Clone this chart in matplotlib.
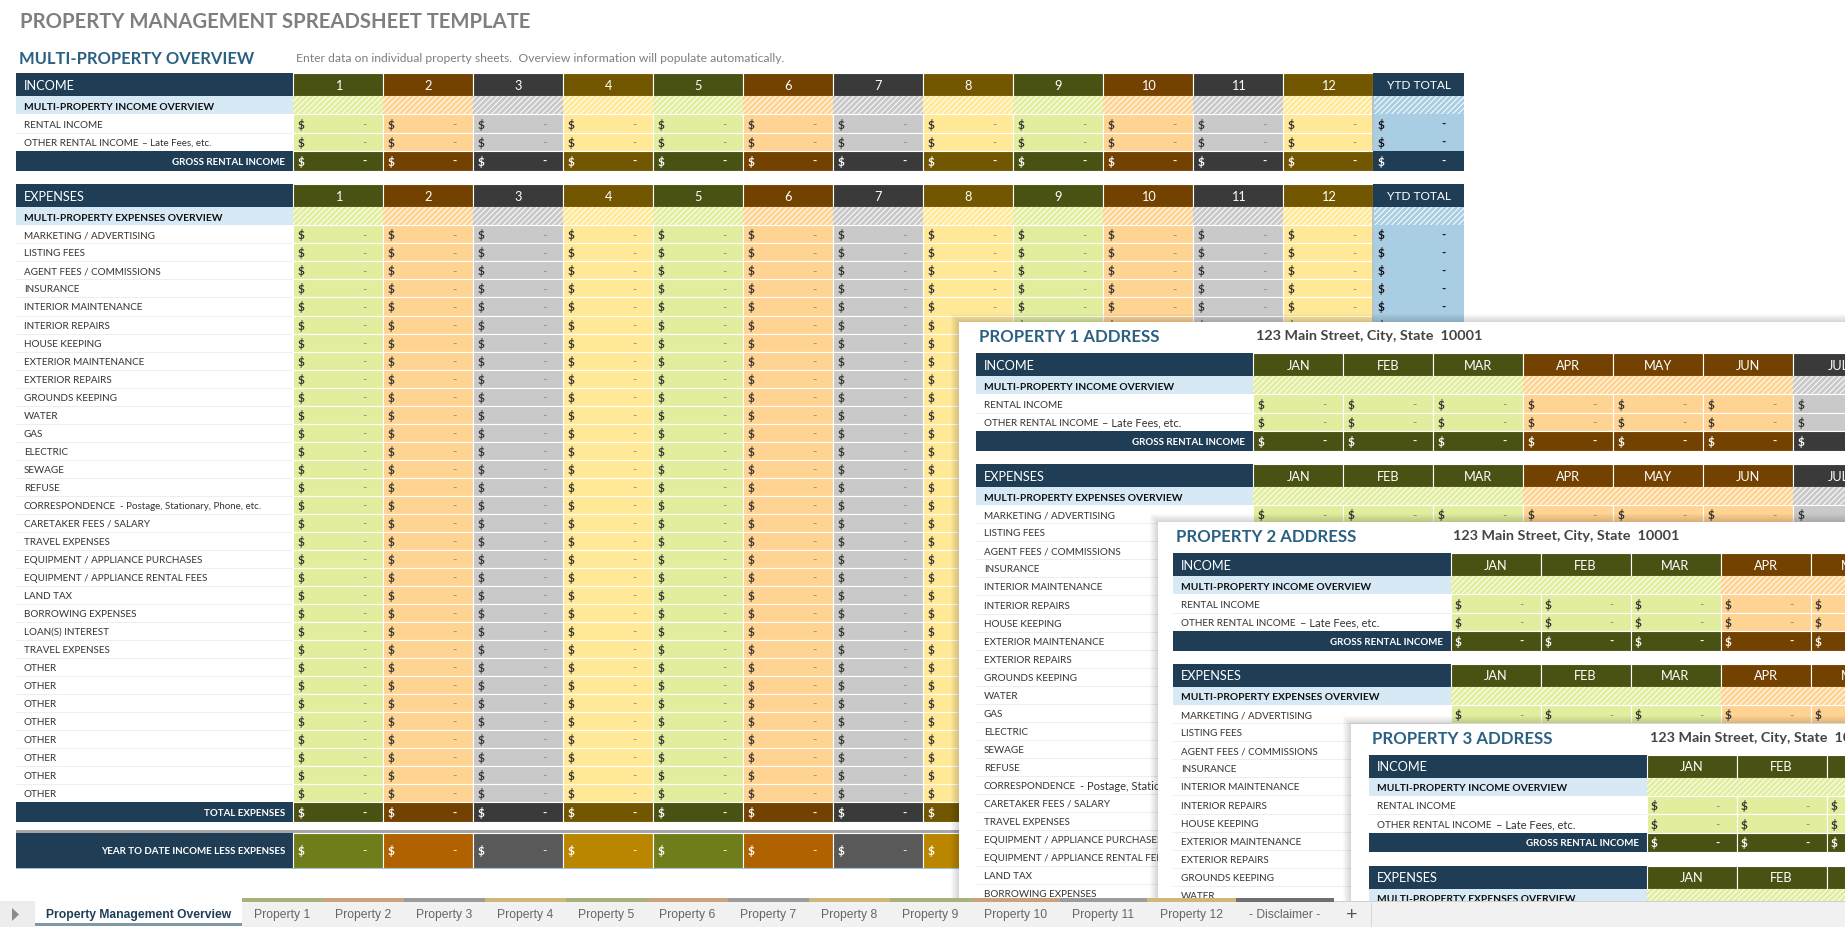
import matplotlib
matplotlib.use("Agg")
import matplotlib.pyplot as plt
from matplotlib.patches import Rectangle, Polygon

plt.rcParams['font.family'] = ['Lato', 'DejaVu Sans']
plt.rcParams['hatch.linewidth'] = 0.7

TITLE = "PROPERTY MANAGEMENT SPREADSHEET TEMPLATE"
SUBTITLE = "MULTI-PROPERTY OVERVIEW"
NOTE = "Enter data on individual property sheets.  Overview information will populate automatically."
ADDRESS = "123 Main Street, City, State  10001"
MAIN_COLUMNS = [str(i) for i in range(1, 13)]
MONTHS = ["JAN", "FEB", "MAR", "APR", "MAY", "JUN", "JUL", "AUG", "SEP", "OCT", "NOV", "DEC"]
MAIN_GROUPS = [0, 1, 2, 3, 0, 1, 2, 3, 0, 1, 2, 3]
MONTH_GROUPS = [0, 0, 0, 1, 1, 1, 2, 2, 2, 3, 3, 3]
INCOME_ROWS = [("RENTAL INCOME", ""), ("OTHER RENTAL INCOME", "– Late Fees, etc.")]
EXPENSE_ROWS = [("MARKETING / ADVERTISING", ""), ("LISTING FEES", ""), ("AGENT FEES / COMMISSIONS", ""),
                ("INSURANCE", ""), ("INTERIOR MAINTENANCE", ""), ("INTERIOR REPAIRS", ""), ("HOUSE KEEPING", ""),
                ("EXTERIOR MAINTENANCE", ""), ("EXTERIOR REPAIRS", ""), ("GROUNDS KEEPING", ""), ("WATER", ""),
                ("GAS", ""), ("ELECTRIC", ""), ("SEWAGE", ""), ("REFUSE", ""),
                ("CORRESPONDENCE", "- Postage, Stationary, Phone, etc."), ("CARETAKER FEES / SALARY", ""),
                ("TRAVEL EXPENSES", ""), ("EQUIPMENT / APPLIANCE PURCHASES", ""),
                ("EQUIPMENT / APPLIANCE RENTAL FEES", ""), ("LAND TAX", ""), ("BORROWING EXPENSES", ""),
                ("LOAN(S) INTEREST", ""), ("TRAVEL EXPENSES", "")] + [("OTHER", "")] * 8
EMPTY_VALUE = "-"
SHEET_NAMES = ["PROPERTY 1 ADDRESS", "PROPERTY 2 ADDRESS", "PROPERTY 3 ADDRESS"]
TABS = ["Property Management Overview"] + [f"Property {i}" for i in range(1, 13)] + ["- Disclaimer -"]
TAB_WIDTHS = [207] + [81] * 9 + [89, 87, 89, 98]

NAVY = "#1F3E56"
DARK = ["#4A5213", "#744200", "#3A3A3A", "#735600"]
LIGHT = ["#E2EE9E", "#FFD391", "#C9C9C9", "#FFE896"]
MID = ["#6F7E1A", "#B06100", "#595959", "#BA8600"]
BLUE = "#A9CDE3"
PALE = "#D7E9F5"
TAB_TOP = ["#A8B07B", "#C9A37A", "#9C9C9C", "#CFB67A"]

LABEL_W, COL_W = 277.5, 90.0
YTD_W = 90.5

fig = plt.figure(figsize=(18.45, 9.27), dpi=100, facecolor="white")
ax = fig.add_axes([0, 0, 1, 1])
ax.set_xlim(0, 1845)
ax.set_ylim(927, 0)
ax.axis("off")


def box(x, y, w, h, color, z, edge=None, lw=0.0, **kw):
    ax.add_patch(Rectangle((x, y), w, h, facecolor=color, edgecolor=edge if edge else color,
                           linewidth=lw, zorder=z, **kw))


def txt(x, y, s, z, size=8, color="#222222", weight="normal", ha="left", family=None):
    kw = {"family": family} if family else {}
    return ax.text(x, y, s, fontsize=size, color=color, fontweight=weight, ha=ha, va="center_baseline",
                   zorder=z, **kw)


def value_cell(x, y, h, color, z, fg, dash_fg=None, size=8.5, bold=False):
    box(x, y, COL_W, h, color, z, edge="white", lw=0.8)
    w = "bold" if bold else "normal"
    txt(x + 8, y + h / 2, "$", z + 1, size=size, color=fg, weight="bold", ha="center")
    txt(x + 71, y + h / 2, EMPTY_VALUE, z + 1, size=size, color=dash_fg or fg, weight=w, ha="center")


def ytd_cell(x, y, h, color, z, fg):
    box(x, y, YTD_W, h, color, z)
    txt(x + 8, y + h / 2, "$", z + 1, size=8.5, color=fg, weight="bold", ha="center")
    txt(x + 70, y + h / 2, EMPTY_VALUE, z + 1, size=8.5, color=fg, weight="bold", ha="center")


def block(ox, y, z, heading, over, rows, col_labels, groups, total, sub_small, row_h, total_h):
    xs = [ox + LABEL_W + i * COL_W for i in range(len(col_labels))]
    ytd_x = xs[-1] + COL_W
    # header row
    box(ox, y, LABEL_W, 23, NAVY, z)
    txt(ox + 8, y + 11.5, heading, z + 1, size=9.2, color="white")
    for x, lab, g in zip(xs, col_labels, groups):
        box(x, y, COL_W, 23, DARK[g], z, edge="white", lw=0.8)
        txt(x + COL_W / 2, y + 11.5, lab, z + 1, size=9.2, color="white", ha="center")
    box(ytd_x, y, YTD_W, 23, NAVY, z)
    txt(ytd_x + YTD_W / 2, y + 11.5, "YTD TOTAL", z + 1, size=8.6, color="white", ha="center")
    y += 23
    # overview row
    box(ox, y, LABEL_W, 18.4, PALE, z)
    txt(ox + 8, y + 10, over, z + 1, size=7.4, color="#111111", weight="bold")
    for x, g in zip(xs, groups):
        box(x, y, COL_W, 18.4, LIGHT[g], z, edge="white", lw=0, hatch="//////")
    box(ytd_x, y, YTD_W, 18.4, BLUE, z, edge="white", lw=0, hatch="//////")
    y += 18.4
    # data rows
    for main, extra in rows:
        h = row_h
        ax.plot([ox, ox + LABEL_W], [y + h, y + h], color="#EEEEEE", lw=0.7, zorder=z)
        t = txt(ox + 8, y + h / 2 + 0.5, main, z + 1, size=7.1, color="#333333")
        if extra:
            fig.canvas.draw_idle()
            bb = t.get_window_extent(fig.canvas.get_renderer())
            txt(bb.x1 + 4, y + h / 2 + 0.5, extra, z + 1, size=sub_small, color="#333333")
        for x, g in zip(xs, groups):
            value_cell(x, y, h, LIGHT[g], z, "#333333", dash_fg="#888888")
        ytd_cell(ytd_x, y, h, BLUE, z, "#111111")
        y += h
    # total row
    box(ox, y, LABEL_W, total_h, NAVY, z)
    txt(ox + LABEL_W - 8, y + total_h / 2 + 0.5, total, z + 1, size=7.0, color="white", weight="bold", ha="right")
    for x, g in zip(xs, groups):
        value_cell(x, y, total_h, DARK[g], z, "white", bold=True)
    ytd_cell(ytd_x, y, total_h, NAVY, z, "white")
    y += total_h
    return y, ytd_x


def table(ox, oy, z, col_labels, groups, sub_small):
    y, ytd_x = block(ox, oy, z, "INCOME", "MULTI-PROPERTY INCOME OVERVIEW", INCOME_ROWS, col_labels, groups,
                     "GROSS RENTAL INCOME", sub_small, 18.3, 19.6)
    box(ytd_x - 1, oy + 23, 2, y - oy - 43, "#B8C4CC", z + 2)
    top2 = y + 13.4
    y, ytd_x = block(ox, top2, z, "EXPENSES", "MULTI-PROPERTY EXPENSES OVERVIEW", EXPENSE_ROWS, col_labels, groups,
                     "TOTAL EXPENSES", sub_small, 18.02, 20)
    box(ytd_x - 1, top2 + 23, 2, y - top2 - 43, "#B8C4CC", z + 2)
    y += 8
    xs = [ox + LABEL_W + i * COL_W for i in range(len(col_labels))]
    box(ox, y, ytd_x + YTD_W - ox, 2.5, "#A6A6A6", z)
    y += 2.5
    box(ox, y, LABEL_W, 35, NAVY, z)
    txt(ox + LABEL_W - 8, y + 17.5, "YEAR TO DATE INCOME LESS EXPENSES", z + 1, size=7.0, color="white",
        weight="bold", ha="right")
    for x, g in zip(xs, groups):
        value_cell(x, y, 35, MID[g], z, "white", dash_fg="white")
    ytd_cell(ytd_x, y, 35, NAVY, z, "white")
    box(ox, y + 35, ytd_x + YTD_W - ox, 1, "#9DBFD3", z)


# main sheet
txt(20, 20, TITLE, 5, size=14.6, color="#7F7F7F", weight="bold")
txt(19, 57, SUBTITLE, 5, size=11.9, color="#2A6082", weight="bold")
txt(296, 57, NOTE, 5, size=8.7, color="#7F7F7F")
table(15.8, 73, 6, MAIN_COLUMNS, MAIN_GROUPS, 7)

# overlapping property sheets
sheet_pos = [(959, 321.7, 975.8, 353, 978.7, 1256), (1158, 521.7, 1173, 553, 1176, 1453),
             (1351, 724, 1369, 754.7, 1372, 1650)]
for i, (sx, sy, tx, ty, name_x, addr_x) in enumerate(sheet_pos):
    z = 100 * (i + 1)
    for k in range(8, 0, -1):
        box(sx - k, sy - k, 1845 - sx + k, 927 - sy + k, "#000000", z - 5, alpha=0.018)
    box(sx, sy, 1845 - sx, 927 - sy, "white", z - 1)
    txt(name_x, ty - 17, SHEET_NAMES[i], z + 1, size=12.1, color="#2A6082", weight="bold")
    txt(addr_x, ty - 17.5, ADDRESS, z + 1, size=10.4, color="#444444", weight="bold")
    table(tx, ty, z, MONTHS, MONTH_GROUPS, 8)

# tab bar
TZ = 1000
box(0, 901, 1845, 26, "#F1F1F1", TZ)
box(0, 901, 1845, 0.8, "#D0D0D0", TZ + 1)
box(0, 901, 35, 26, "#EDEDED", TZ + 1)
ax.add_patch(Polygon([[12, 908], [12, 921], [19, 914.5]], closed=True, facecolor="#8A8A8A", edgecolor="none", zorder=TZ + 2))
tx = 35
for i, (name, w) in enumerate(zip(TABS, TAB_WIDTHS)):
    if i == 0:
        box(tx, 901, w, 26, "white", TZ + 1)
        box(tx, 923, w, 3, "#7D99A6", TZ + 2)
        txt(tx + w / 2, 913.5, name, TZ + 3, size=8.7, color="#1F3E56", weight="bold", ha="center", family="Liberation Sans")
    else:
        top = "#6F6F6F" if name.startswith("-") else TAB_TOP[(i - 1) % 4]
        box(tx, 898, w, 3.5, top, TZ + 2)
        txt(tx + w / 2, 913.5, name, TZ + 3, size=8.7, color="#666666", ha="center", family="Liberation Sans")
        box(tx + w - 0.5, 901, 0.8, 26, "#D8D8D8", TZ + 2)
    tx += w
txt(tx + 18, 913.5, "+", TZ + 3, size=14, color="#555555", ha="center", family="Liberation Sans")
box(tx + 37, 901, 0.8, 26, "#D8D8D8", TZ + 2)

fig.savefig("out.png", dpi=100)
